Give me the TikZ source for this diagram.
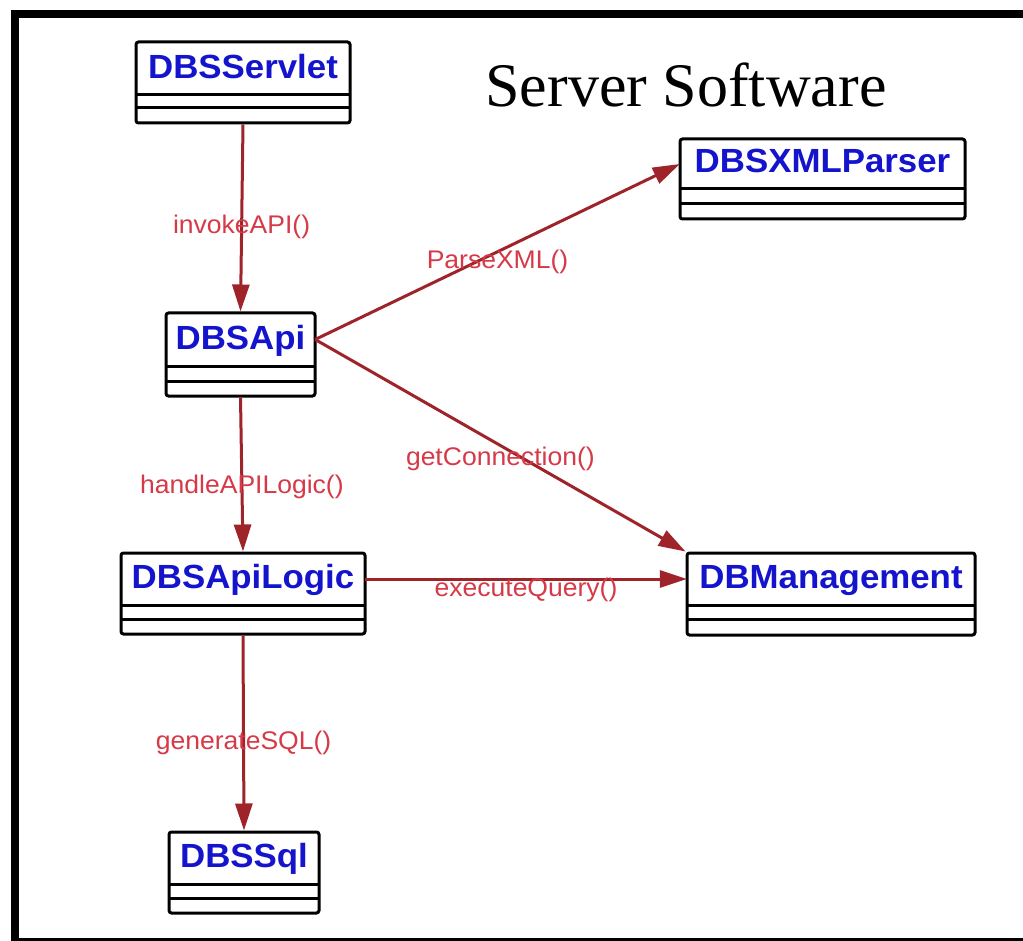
\documentclass[tikz,border=0pt]{standalone}
\usepackage{fontspec}
\setmainfont{Liberation Serif}
\newfontfamily\umlsans{Liberation Sans}
\usetikzlibrary{arrows.meta,fit}

\definecolor{msgline}{RGB}{158,36,42}
\definecolor{msgtext}{RGB}{214,58,72}
\definecolor{clsblue}{RGB}{20,20,205}

\tikzset{
  frame/.style={line width=8pt, draw=black},
  classbox/.style={draw=black, line width=3pt, rounded corners=2.5pt, inner sep=0pt, fill=white},
  classarea/.style={inner sep=0pt},
  classtext/.style={font=\umlsans\bfseries\fontsize{33.5}{34}\selectfont, text=clsblue, inner sep=0pt, xscale=1.04},
  divider/.style={line width=3pt, draw=black},
  msg/.style={draw=msgline, line width=3pt, -{Triangle[length=27pt,width=17pt]}},
  msglabel/.style={font=\umlsans\fontsize{25.5}{26}\selectfont, text=msgtext, inner sep=0pt, xscale=1.04},
  titletext/.style={font=\fontsize{62}{63}\selectfont, inner sep=0pt}
}

% UML class box: #1 name, #2 left, #3 top, #4 right, #5 bottom,
% #6 bottom of the name compartment, #7 second divider, #8 class name
\newcommand\umlclass[8]{%
  \node[classbox, fit={(#2,#3) (#4,#5)}] (#1) {};
  \node[classarea, fit={(#2,#3) (#4,#6)}] (#1-name) {};
  \node[classtext, anchor=base] (#1-text) at ([yshift=17pt]#1-name.south) {#8};
  \draw[divider] (#2,#6) -- (#4,#6);
  \draw[divider] (#2,#7) -- (#4,#7);
}

\begin{document}
\begin{tikzpicture}[x=1pt,y=-1pt]
  \useasboundingbox (0,0) rectangle (1023,941);
  \fill[white] (0,0) rectangle (1023,941);

  % outer frame (left, top and bottom edges)
  \draw[frame] (1040,14) -- (15,14) -- (15,960);
  \draw[frame] (15,942) -- (1040,942);

  \node[titletext, anchor=base] (title) at (686,107) {Server Software};

  \umlclass{servlet}{136}{42}{350}{123}{95}{108}{DBSServlet}
  \umlclass{api}{166}{313}{315}{396}{366}{381}{DBSApi}
  \umlclass{xml}{680}{139}{965}{219}{189}{204}{DBSXMLParser}
  \umlclass{logic}{121}{553}{365}{634}{605}{619}{DBSApiLogic}
  \umlclass{dbm}{687}{553}{975}{635}{605}{619}{DBManagement}
  \umlclass{sql}{169}{832}{319}{913}{884}{898}{DBSSql}

  % messages
  \draw[msg] (servlet.south) -- node[msglabel, pos=0.55] (l-invoke) {invokeAPI()} (api.north);
  \draw[msg] (api-name.east) -- node[msglabel, pos=0.5, yshift=-10pt] (l-parse) {ParseXML()} (xml-name.west);
  \draw[msg] (api-name.east) -- node[msglabel, pos=0.5, yshift=-13pt] (l-conn) {getConnection()} (dbm.north west);
  \draw[msg] (api.south) -- node[msglabel, pos=0.58] (l-handle) {handleAPILogic()} (logic.north);
  \draw[msg] (logic-name.east) -- node[msglabel, pos=0.5, yshift=-11pt] (l-exec) {executeQuery()} (dbm-name.west);
  \draw[msg] (logic.south) -- node[msglabel, pos=0.55] (l-gen) {generateSQL()} (sql.north);
\end{tikzpicture}
\end{document}
